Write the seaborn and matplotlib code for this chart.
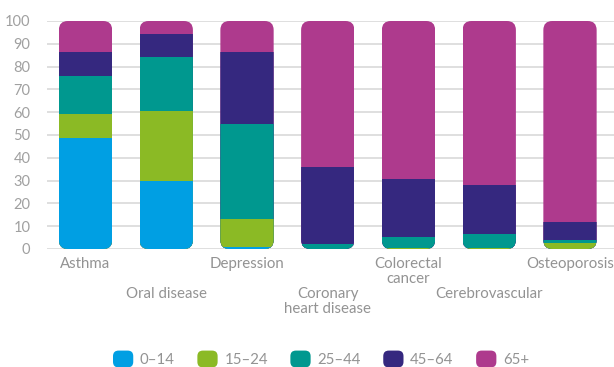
import numpy as np
import pandas as pd
import matplotlib
matplotlib.use("Agg")
import matplotlib.pyplot as plt
import seaborn as sns
from matplotlib.patches import FancyBboxPatch, Patch
from matplotlib.legend_handler import HandlerPatch

categories = ["Asthma", "Oral disease", "Depression", "Coronary\nheart disease",
              "Colorectal\ncancer", "Cerebrovascular", "Osteoporosis"]
age_groups = ["0–14", "15–24", "25–44", "45–64", "65+"]
v_0_14 = [48.5, 30.0, 1.0, 0.0, 0.0, 0.0, 0.0]
v_15_24 = [10.5, 30.5, 12.0, 0.2, 0.5, 0.6, 2.6]
v_25_44 = [17.0, 23.5, 42.0, 2.2, 4.7, 6.0, 1.3]
v_45_64 = [10.5, 10.5, 31.5, 33.5, 25.5, 21.5, 8.1]
v_65 = [13.5, 5.5, 13.5, 64.1, 69.3, 71.9, 88.0]
colors = ["#009FE3", "#8BBA25", "#00988F", "#35287F", "#AE3A8D"]
yticks = [0, 10, 20, 30, 40, 50, 60, 70, 80, 90, 100]

sns.set_theme(style="white")
plt.rcParams["font.family"] = ["Lato", "DejaVu Sans"]

W, H = 614, 367
fig = plt.figure(figsize=(W / 100, H / 100), dpi=100)
ax = fig.add_axes([47 / W, 1 - 249 / H, (614 - 47) / W, (249 - 21) / H])

series = [v_0_14, v_15_24, v_25_44, v_45_64, v_65]
cum = np.cumsum(np.array(series), axis=0)
bar_w = 0.66
for k in range(len(series) - 1, -1, -1):
    df = pd.DataFrame({"cat": categories, "val": cum[k]})
    sns.barplot(data=df, x="cat", y="val", order=categories, color=colors[k],
                saturation=1, width=bar_w, linewidth=0, errorbar=None, ax=ax, zorder=3)

ax.set_xlim(-0.477, 6.545)
ax.set_ylim(0, 100)
fig.canvas.draw()

# rounded clip per bar
px_x = ax.transData.transform((1, 0))[0] - ax.transData.transform((0, 0))[0]
px_y = ax.transData.transform((0, 1))[1] - ax.transData.transform((0, 0))[1]
r_px = 9
clips = {}
for i in range(len(categories)):
    cp = FancyBboxPatch((i - bar_w / 2, 0), bar_w, cum[-1][i],
                        boxstyle=f"round,pad=0,rounding_size={r_px / px_x}",
                        mutation_aspect=px_x / px_y,
                        transform=ax.transData, facecolor="none", edgecolor="none")
    clips[i] = cp
for p in ax.patches:
    cx = p.get_x() + p.get_width() / 2
    idx = int(round(cx))
    if idx in clips:
        p.set_clip_path(clips[idx])

ax.set_yticks(yticks)
ax.set_yticklabels([str(t) for t in yticks])
ax.grid(axis="y", color="#d6d6d6", linewidth=1.1, zorder=0)
ax.set_axisbelow(True)
for s in ax.spines.values():
    s.set_visible(False)
ax.tick_params(axis="y", length=0, pad=12, labelsize=10.5, labelcolor="#a0a0a0")
ax.set_xticks([])
ax.set_xlabel("")
ax.set_ylabel("")

for i, lab in enumerate(categories):
    off = 8 if i % 2 == 0 else 38
    ax.annotate(lab, xy=(i, 0), xycoords=("data", "axes fraction"),
                xytext=(0, -off), textcoords="offset pixels", ha="center", va="top",
                fontsize=10.8, color="#939393", linespacing=1.12, annotation_clip=False)


class HandlerRound(HandlerPatch):
    def create_artists(self, legend, orig_handle, xdescent, ydescent, width, height,
                       fontsize, trans):
        p = FancyBboxPatch((-xdescent, -ydescent), width, height,
                           boxstyle="round,pad=0,rounding_size=4",
                           facecolor=orig_handle.get_facecolor(), edgecolor="none",
                           transform=trans)
        return [p]


handles = [Patch(facecolor=c, label=g) for c, g in zip(colors, age_groups)]
fig.legend(handles=handles, loc="center left", bbox_to_anchor=(113 / W, 1 - 359 / H),
           ncol=5, frameon=False, fontsize=10.8, labelcolor="#939393",
           handlelength=1.35, handleheight=1.35, handletextpad=0.45, columnspacing=1.5,
           borderpad=0, borderaxespad=0,
           handler_map={Patch: HandlerRound()})

fig.savefig("out.png", dpi=100)
